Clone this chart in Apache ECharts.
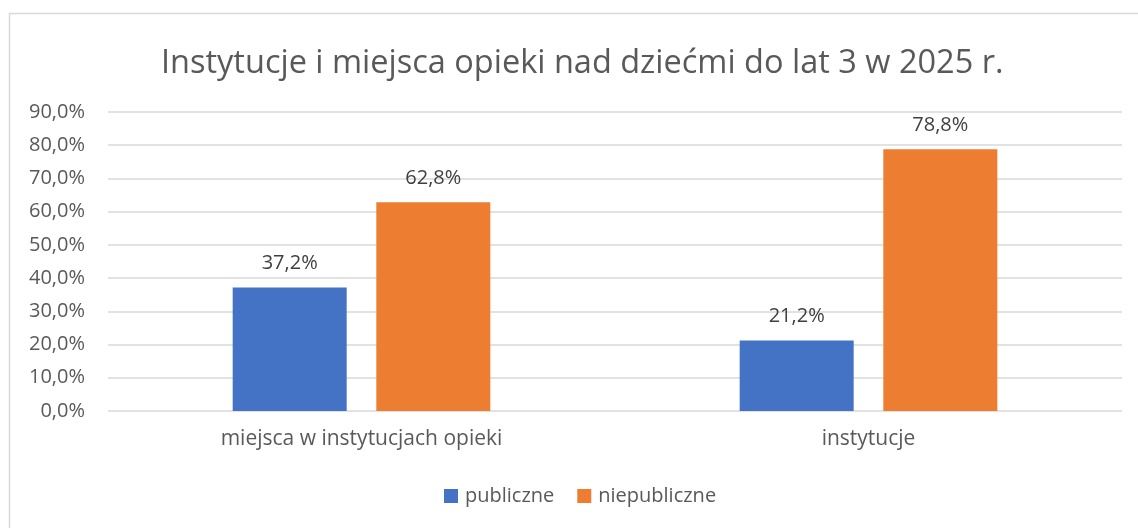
<!DOCTYPE html>
<html>
<head>
<meta charset="utf-8">
<script src="https://cdn.jsdelivr.net/npm/echarts@6/dist/echarts.min.js"></script>
<style>
  html, body { margin: 0; padding: 0; background: #fff; }
  #chart { width: 1138px; height: 528px; }
</style>
</head>
<body>
<div id="chart"></div>
<script>
const categories = ['miejsca w instytucjach opieki', 'instytucje']
const publiczne = [37.2, 21.2]
const niepubliczne = [62.8, 78.8]
const seriesNames = ['publiczne', 'niepubliczne']

const fmt = v => v.toFixed(1).replace('.', ',') + '%'
const font = 'Open Sans'

let myChart = echarts.init(document.getElementById('chart'))
let option = {
  backgroundColor: '#fff',
  textStyle: { fontFamily: font },
  graphic: [{
    type: 'rect',
    shape: { x: 9.5, y: 13.5, width: 1140, height: 530 },
    style: { fill: 'none', stroke: '#d9d9d9', lineWidth: 1.5 },
    silent: true
  }],
  title: {
    text: 'Instytucje i miejsca opieki nad dziećmi do lat 3 w 2025 r.',
    left: 156,
    top: 42,
    textStyle: { fontFamily: font, fontSize: 32.5, fontWeight: 'normal', color: '#595959' }
  },
  legend: {
    data: seriesNames,
    bottom: 17,
    left: 439,
    itemWidth: 14,
    itemHeight: 14,
    itemGap: 23,
    icon: 'rect',
    textStyle: { fontFamily: font, fontSize: 20, color: '#595959', padding: [0, 0, 0, 2] }
  },
  grid: { left: 108, right: 16, top: 112, bottom: 117, containLabel: false },
  xAxis: {
    type: 'category',
    data: categories,
    axisLine: { show: false },
    axisTick: { show: false },
    axisLabel: { fontFamily: font, fontSize: 21, color: '#595959', margin: 18 }
  },
  yAxis: {
    type: 'value',
    min: 0,
    max: 90,
    interval: 10,
    axisLine: { show: false },
    axisTick: { show: false },
    splitLine: { lineStyle: { color: '#d9d9d9', width: 1.5 } },
    axisLabel: { fontFamily: font, fontSize: 20, color: '#595959', margin: 23, formatter: v => fmt(v) }
  },
  series: [
    {
      name: seriesNames[0],
      type: 'bar',
      data: publiczne,
      barWidth: 114,
      barGap: '26%',
      itemStyle: { color: '#4472c4' },
      label: { show: true, position: 'top', distance: 14, fontFamily: font, fontSize: 20, color: '#404040', formatter: p => fmt(p.value) }
    },
    {
      name: seriesNames[1],
      type: 'bar',
      data: niepubliczne,
      barWidth: 114,
      itemStyle: { color: '#ed7d31' },
      label: { show: true, position: 'top', distance: 14, fontFamily: font, fontSize: 20, color: '#404040', formatter: p => fmt(p.value) }
    }
  ]
}
myChart.setOption(option)
</script>
</body>
</html>
